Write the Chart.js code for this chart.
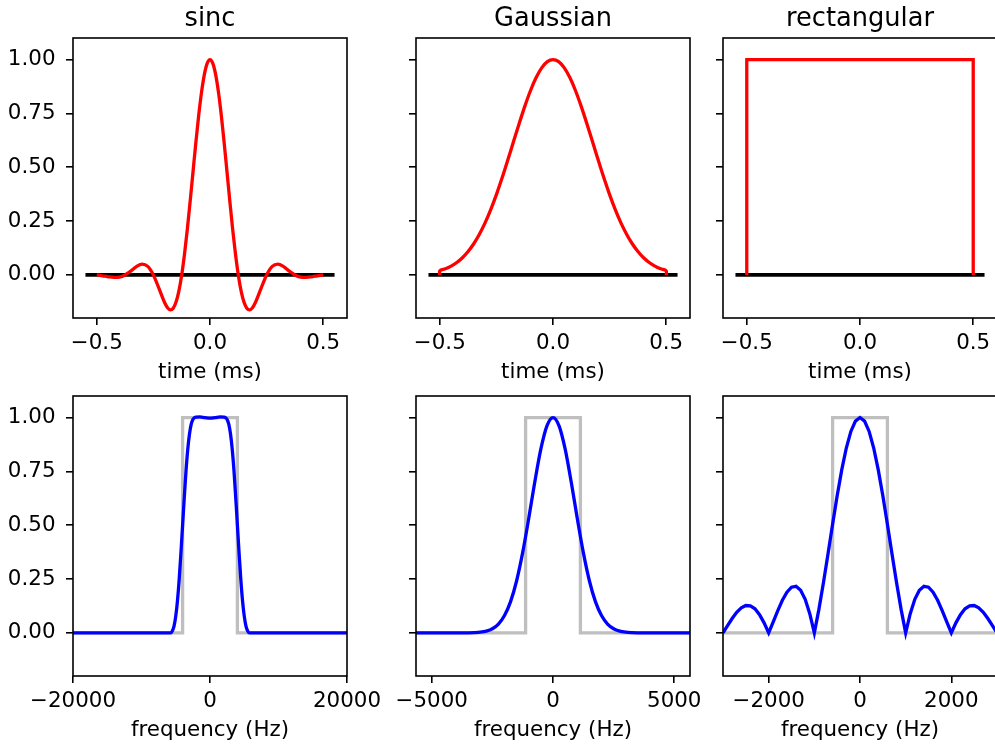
<!DOCTYPE html>
<html><head><meta charset="utf-8">
<script src="https://cdn.jsdelivr.net/npm/chart.js@4/dist/chart.umd.min.js"></script>
<style>
html,body{margin:0;padding:0;background:#fff;width:995px;height:749px;overflow:hidden;position:relative;}
canvas{position:absolute;left:0;top:0;}
</style></head><body>
<canvas id="c0" width="1000" height="749"></canvas>
<canvas id="c1" width="1000" height="749"></canvas>
<canvas id="c2" width="1000" height="749"></canvas>
<canvas id="c3" width="1000" height="749"></canvas>
<canvas id="c4" width="1000" height="749"></canvas>
<canvas id="c5" width="1000" height="749"></canvas>
<script>
// ---------- text / ticks ----------
const panelTitles = ['sinc', 'Gaussian', 'rectangular'];
const timeLabel = 'time (ms)';
const freqLabel = 'frequency (Hz)';
const yTicks = [0, 0.25, 0.5, 0.75, 1.0];
const yTickLabels = ['0.00', '0.25', '0.50', '0.75', '1.00'];
const timeTicks = [-0.5, 0, 0.5];
const timeTickLabels = ['\u22120.5', '0.0', '0.5'];
const sincFreqTicks = [-20000, 0, 20000];
const sincFreqTickLabels = ['\u221220000', '0', '20000'];
const gaussFreqTicks = [-5000, 0, 5000];
const gaussFreqTickLabels = ['\u22125000', '0', '5000'];
const rectFreqTicks = [-2000, 0, 2000];
const rectFreqTickLabels = ['\u22122000', '0', '2000'];

// ---------- time domain ----------
const zeroLineT = [-0.55, 0.55];
const zeroLineV = [0, 0];

const sincT = [-0.5,-0.475,-0.45,-0.425,-0.4,-0.375,-0.35,-0.325,-0.3,-0.275,-0.25,-0.225,-0.2,-0.1875,-0.175,-0.1625,-0.15,-0.1375,-0.125,-0.1125,-0.1,-0.0875,-0.075,-0.0625,-0.05,-0.0375,-0.025,-0.0125,0,
  0.0125,0.025,0.0375,0.05,0.0625,0.075,0.0875,0.1,0.1125,0.125,0.1375,0.15,0.1625,0.175,0.1875,0.2,0.225,0.25,0.275,0.3,0.325,0.35,0.375,0.4,0.425,0.45,0.475,0.5];
const sincV = [0,-0.0042,-0.0086,-0.0116,-0.0098,0,0.018,0.0386,0.0502,0.0398,0,-0.0636,-0.129,-0.152,-0.162,-0.1546,-0.126,-0.075,0,0.0973,0.213,0.343,0.479,0.614,0.74,0.8475,0.93,0.982,1,
  0.982,0.93,0.8475,0.74,0.614,0.479,0.343,0.213,0.0973,0,-0.075,-0.126,-0.1546,-0.162,-0.152,-0.129,-0.0636,0,0.0398,0.0502,0.0386,0.018,0,-0.0098,-0.0116,-0.0086,-0.0042,0];

const gaussT = [-0.5,-0.5,-0.475,-0.45,-0.425,-0.4,-0.375,-0.35,-0.325,-0.3,-0.275,-0.25,-0.225,-0.2,-0.175,-0.15,-0.125,-0.1,-0.075,-0.05,-0.025,0,
  0.025,0.05,0.075,0.1,0.125,0.15,0.175,0.2,0.225,0.25,0.275,0.3,0.325,0.35,0.375,0.4,0.425,0.45,0.475,0.5,0.5];
const gaussV = [0,0.0193,0.0284,0.0409,0.0578,0.08,0.1087,0.1447,0.1888,0.2416,0.3032,0.373,0.4498,0.532,0.6168,0.7011,0.7815,0.854,0.9151,0.9613,0.9902,1,
  0.9902,0.9613,0.9151,0.854,0.7815,0.7011,0.6168,0.532,0.4498,0.373,0.3032,0.2416,0.1888,0.1447,0.1087,0.08,0.0578,0.0409,0.0284,0.0193,0];

const rectT = [-0.5, -0.5, 0.5, 0.5];
const rectV = [0, 1, 1, 0];

// ---------- frequency domain ----------
const passBandV = [0, 0, 1, 1, 0, 0];
const sincBandF = [-20000, -4000, -4000, 4000, 4000, 20000];
const gaussBandF = [-5650, -1130, -1130, 1130, 1130, 5650];
const rectBandF = [-3000, -600, -600, 600, 600, 3000];

const sincRespF = [-20000,-6000,-5750,-5500,-5250,-5000,-4750,-4500,-4250,-4000,-3750,-3500,-3250,-3000,-2750,-2500,-2250,-2000,-1500,-750,0,
  750,1500,2000,2250,2500,2750,3000,3250,3500,3750,4000,4250,4500,4750,5000,5250,5500,5750,6000,20000];
const sincRespV = [0,0,0,0.009,0.032,0.078,0.149,0.247,0.368,0.5,0.632,0.753,0.851,0.922,0.968,0.991,1.0,1.002,1.003,1.0,0.997,
  1.0,1.003,1.002,1.0,0.991,0.968,0.922,0.851,0.753,0.632,0.5,0.368,0.247,0.149,0.078,0.032,0.009,0,0,0];

const gaussRespF = [-5650,-3750,-3500,-3250,-3000,-2750,-2500,-2250,-2000,-1750,-1500,-1250,-1000,-750,-500,-250,0,
  250,500,750,1000,1250,1500,1750,2000,2250,2500,2750,3000,3250,3500,3750,5650];
const gaussRespV = [0,0,0.0004,0.0013,0.0034,0.0085,0.0195,0.0412,0.0805,0.1452,0.2423,0.3737,0.5326,0.7016,0.8543,0.9614,1,
  0.9614,0.8543,0.7016,0.5326,0.3737,0.2423,0.1452,0.0805,0.0412,0.0195,0.0085,0.0034,0.0013,0.0004,0,0];

const rectRespF = [-3000,-2900,-2800,-2700,-2600,-2500,-2400,-2300,-2200,-2100,-2000,-1900,-1800,-1700,-1600,-1500,-1400,-1300,-1200,-1100,-1000,
  -900,-800,-700,-600,-500,-400,-300,-200,-100,0,100,200,300,400,500,600,700,800,900,
  1000,1100,1200,1300,1400,1500,1600,1700,1800,1900,2000,2100,2200,2300,2400,2500,2600,2700,2800,2900,3000];
const rectRespV = [0,0.0339,0.0668,0.0954,0.1164,0.1273,0.1261,0.112,0.085,0.0468,0,0.0518,0.1039,0.1515,0.1892,0.2122,0.2162,0.1981,0.1559,0.0894,0,
  0.1093,0.2339,0.3679,0.5046,0.6366,0.7568,0.8584,0.9355,0.9836,1,0.9836,0.9355,0.8584,0.7568,0.6366,0.5046,0.3679,0.2339,0.1093,
  0,0.0894,0.1559,0.1981,0.2162,0.2122,0.1892,0.1515,0.1039,0.0518,0,0.0468,0.085,0.112,0.1261,0.1273,0.1164,0.0954,0.0668,0.0339,0];

// ---------- drawing ----------
const FONT = 'DejaVu Sans';
const tickFont = {family: FONT, size: 21.4};
Chart.defaults.color = '#000';
Chart.defaults.font.family = FONT;

const pts = (xs, ys) => xs.map((x, i) => ({x: x, y: ys[i]}));

const framePlugin = {
  id: 'frame',
  afterDatasetsDraw(chart) {
    const {ctx, chartArea: a} = chart;
    ctx.save();
    ctx.strokeStyle = '#000';
    ctx.lineWidth = 1.6;
    ctx.strokeRect(a.left, a.top, a.right - a.left, a.bottom - a.top);
    ctx.restore();
  }
};

const ROW_TOP = [38, 396];
const ROW_BOTTOM = [318, 676];
const COL_LEFT = [73, 416, 723];
const COL_RIGHT = [347, 690, 997];
const Y_AXIS_W = 73, X_AXIS_H = 67, CANVAS_W = 1000, CANVAS_H = 749;
const TITLE_SIZE = 25.7, TITLE_PAD_TOP = 3.5, TITLE_PAD_BOTTOM = 3.5;

function lineDs(xs, ys, color, width, extra) {
  return Object.assign({
    data: pts(xs, ys), showLine: true, borderColor: color, backgroundColor: color,
    borderWidth: width, pointRadius: 0, pointHoverRadius: 0, tension: 0, fill: false
  }, extra || {});
}

function makePanel(id, row, col, datasets, xMin, xMax, xTicks, xTickLabels, xTitle, title) {
  const gridOpts = {display: true, drawOnChartArea: false, drawTicks: true, tickLength: 7,
    tickWidth: 1.6, tickColor: '#000', color: '#000', lineWidth: 1.6};
  const titleH = TITLE_SIZE * 1.2 + TITLE_PAD_TOP + TITLE_PAD_BOTTOM;
  const padTop = title ? ROW_TOP[row] - titleH : ROW_TOP[row];
  new Chart(document.getElementById(id), {
    type: 'scatter',
    data: {datasets: datasets},
    options: {
      responsive: false, animation: false, devicePixelRatio: 1, events: [],
      layout: {padding: {
        left: COL_LEFT[col] - Y_AXIS_W,
        right: CANVAS_W - COL_RIGHT[col],
        top: padTop,
        bottom: CANVAS_H - ROW_BOTTOM[row] - X_AXIS_H
      }},
      plugins: {
        legend: {display: false}, tooltip: {enabled: false},
        title: title ? {display: true, text: title, fullSize: false, color: '#000',
          font: {family: FONT, size: TITLE_SIZE, weight: 'normal'},
          padding: {top: TITLE_PAD_TOP, bottom: TITLE_PAD_BOTTOM}} : {display: false}
      },
      scales: {
        x: {
          type: 'linear', min: xMin, max: xMax,
          afterBuildTicks: s => { s.ticks = xTicks.map(v => ({value: v})); },
          afterFit: s => { s.height = X_AXIS_H; s.paddingLeft = 0; s.paddingRight = 0; },
          ticks: {font: tickFont, padding: 5.3, maxRotation: 0, autoSkip: false, color: '#000',
            callback: (v, i) => xTickLabels[i]},
          grid: gridOpts, border: {display: false},
          title: {display: true, text: xTitle, font: tickFont, padding: 0, color: '#000'}
        },
        y: {
          type: 'linear', min: -0.2, max: 1.1,
          afterBuildTicks: s => { s.ticks = yTicks.map(v => ({value: v})); },
          afterFit: s => { s.width = Y_AXIS_W; s.paddingTop = 0; s.paddingBottom = 0; },
          ticks: {display: col === 0, font: tickFont, padding: 10.5, color: '#000',
            callback: (v, i) => yTickLabels[i]},
          grid: gridOpts, border: {display: false}
        }
      }
    },
    plugins: [framePlugin]
  });
}

const RED = '#ff0000', BLUE = '#0000ff', GRAY = '#bfbfbf', BLACK = '#000000';
const LW = 3.3, LW_ZERO = 3.6;

makePanel('c0', 0, 0, [
  lineDs(sincT, sincV, RED, LW, {cubicInterpolationMode: 'monotone'}),
  lineDs(zeroLineT, zeroLineV, BLACK, LW_ZERO)
], -0.605, 0.605, timeTicks, timeTickLabels, timeLabel, panelTitles[0]);

makePanel('c1', 0, 1, [
  lineDs(gaussT, gaussV, RED, LW, {tension: 0.3}),
  lineDs(zeroLineT, zeroLineV, BLACK, LW_ZERO)
], -0.605, 0.605, timeTicks, timeTickLabels, timeLabel, panelTitles[1]);

makePanel('c2', 0, 2, [
  lineDs(rectT, rectV, RED, LW),
  lineDs(zeroLineT, zeroLineV, BLACK, LW_ZERO)
], -0.605, 0.605, timeTicks, timeTickLabels, timeLabel, panelTitles[2]);

makePanel('c3', 1, 0, [
  lineDs(sincRespF, sincRespV, BLUE, LW, {cubicInterpolationMode: 'monotone'}),
  lineDs(sincBandF, passBandV, GRAY, LW)
], -20000, 20000, sincFreqTicks, sincFreqTickLabels, freqLabel, null);

makePanel('c4', 1, 1, [
  lineDs(gaussRespF, gaussRespV, BLUE, LW, {cubicInterpolationMode: 'monotone'}),
  lineDs(gaussBandF, passBandV, GRAY, LW)
], -5650, 5650, gaussFreqTicks, gaussFreqTickLabels, freqLabel, null);

makePanel('c5', 1, 2, [
  lineDs(rectRespF, rectRespV, BLUE, LW),
  lineDs(rectBandF, passBandV, GRAY, LW)
], -3000, 3000, rectFreqTicks, rectFreqTickLabels, freqLabel, null);
</script>
</body></html>
